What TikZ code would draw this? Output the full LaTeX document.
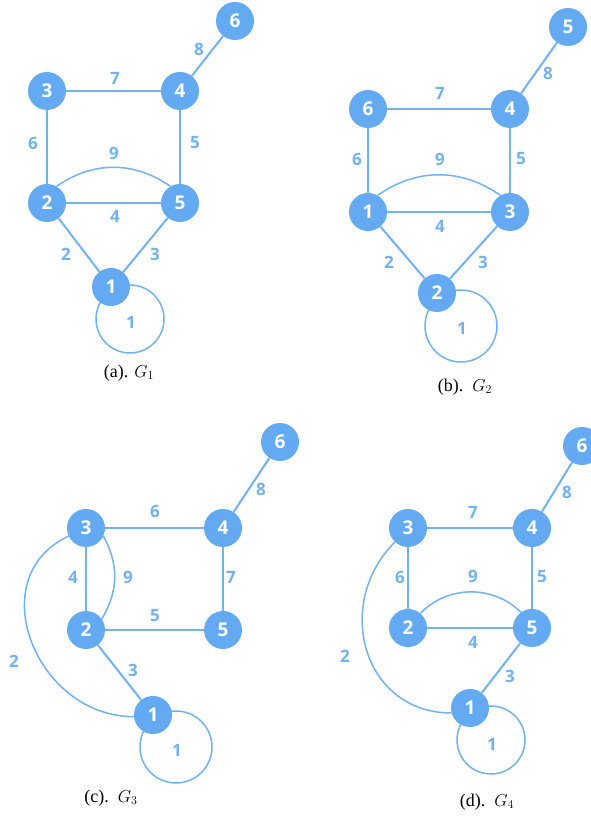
\documentclass[tikz,border=0pt]{standalone}
\usepackage{fontspec}
\setmainfont{Liberation Serif}
\newfontfamily\labfont{Open Sans}
\usetikzlibrary{backgrounds,calc}
\pgfdeclarelayer{paper}
\pgfsetlayers{paper,background,main}
\definecolor{nodeblue}{RGB}{100,170,242}
\definecolor{lineblue}{RGB}{115,178,240}
\tikzset{
 vtx/.style={circle,fill=nodeblue,minimum size=38pt,inner sep=0pt,text=white,font=\labfont\bfseries\fontsize{19}{19}\selectfont},
 edge/.style={draw=lineblue,line width=2pt},
 curved/.style={draw=lineblue,line width=1.5pt},
 wt/.style={text=lineblue,font=\labfont\bfseries\fontsize{17}{17}\selectfont,inner sep=0pt},
 captext/.style={font=\fontsize{18}{18}\selectfont,inner sep=0pt}
}
\begin{document}
\begin{tikzpicture}[x=1pt,y=1pt]
\useasboundingbox (0,0) rectangle (590,818);
\begin{pgfonlayer}{paper}
\fill[white] (0,0) rectangle (590,818);
\end{pgfonlayer}
% ---------- (a) ----------
\node[vtx] (a6) at (235,797) {6};
\node[vtx] (a3) at (47,727) {3};
\node[vtx] (a4) at (180,727) {4};
\node[vtx] (a2) at (47,615) {2};
\node[vtx] (a5) at (180,615) {5};
\node[vtx] (a1) at (111,531) {1};
\begin{scope}[on background layer]
\draw[edge] (a3) -- (a4);
\draw[edge] (a4) -- (a6);
\draw[edge] (a4) -- (a5);
\draw[edge] (a3) -- (a2);
\draw[edge] (a2) -- (a5);
\draw[edge] (a2) -- (a1);
\draw[edge] (a5) -- (a1);
\draw[curved] (a2.60) to[bend left=35] (a5.120);
\draw[curved] ($(a1)+(19,-32)$) circle[radius=34];
\end{scope}
\node[wt] (aw7) at (115,740) {7};
\node[wt] (aw8) at (199,769) {8};
\node[wt] (aw6) at (33,675) {6};
\node[wt] (aw5) at (195,675) {5};
\node[wt] (aw9) at (114,665) {9};
\node[wt] (aw4) at (115,602) {4};
\node[wt] (aw2) at (66,564) {2};
\node[wt] (aw3) at (155,564) {3};
\node[wt] (aw1) at (131,496) {1};
\node[captext] (acap) at (129,445) {(a). $G_1$};
% ---------- (b) ----------
\node[vtx] (b5) at (568,791) {5};
\node[vtx] (b6) at (368,709) {6};
\node[vtx] (b4) at (510,709) {4};
\node[vtx] (b1) at (368,606) {1};
\node[vtx] (b3) at (510,606) {3};
\node[vtx] (b2) at (437,525) {2};
\begin{scope}[on background layer]
\draw[edge] (b6) -- (b4);
\draw[edge] (b4) -- (b5);
\draw[edge] (b4) -- (b3);
\draw[edge] (b6) -- (b1);
\draw[edge] (b1) -- (b3);
\draw[edge] (b1) -- (b2);
\draw[edge] (b3) -- (b2);
\draw[curved] (b1.60) to[bend left=35] (b3.120);
\draw[curved] ($(b2)+(24,-33)$) circle[radius=36];
\end{scope}
\node[wt] (bw7) at (440,725) {7};
\node[wt] (bw8) at (548,745) {8};
\node[wt] (bw6) at (357,659) {6};
\node[wt] (bw5) at (521,659) {5};
\node[wt] (bw9) at (440,659) {9};
\node[wt] (bw4) at (440,592) {4};
\node[wt] (bw2) at (389,556) {2};
\node[wt] (bw3) at (483,556) {3};
\node[wt] (bw1) at (462,490) {1};
\node[captext] (bcap) at (465,431) {(b).\ \ $G_2$};
% ---------- (c) ----------
\node[vtx] (c6) at (280,376) {6};
\node[vtx] (c3) at (86,290) {3};
\node[vtx] (c4) at (223,290) {4};
\node[vtx] (c2) at (86,188) {2};
\node[vtx] (c5) at (223,188) {5};
\node[vtx] (c1) at (153,103) {1};
\begin{scope}[on background layer]
\draw[edge] (c3) -- (c4);
\draw[edge] (c4) -- (c6);
\draw[edge] (c4) -- (c5);
\draw[edge] (c3) -- (c2);
\draw[edge] (c2) -- (c5);
\draw[edge] (c2) -- (c1);
\draw[curved] (c3.-25) to[bend left=30] (c2.35);
\draw[curved] (c3.205) to[out=205,in=180,looseness=1.3] (c1.185);
\draw[curved] ($(c1)+(23,-32)$) circle[radius=36];
\end{scope}
\node[wt] (cw6) at (155,307) {6};
\node[wt] (cw8) at (261,329) {8};
\node[wt] (cw4) at (73,241) {4};
\node[wt] (cw9) at (128,241) {9};
\node[wt] (cw7) at (231,241) {7};
\node[wt] (cw5) at (155,202) {5};
\node[wt] (cw2) at (14,157) {2};
\node[wt] (cw3) at (133,148) {3};
\node[wt] (cw1) at (177,68) {1};
\node[captext] (ccap) at (111,20) {(c).\ \ $G_3$};
% ---------- (d) ----------
\node[vtx] (d6) at (582,372) {6};
\node[vtx] (d3) at (408,290) {3};
\node[vtx] (d4) at (532,290) {4};
\node[vtx] (d2) at (408,190) {2};
\node[vtx] (d5) at (532,190) {5};
\node[vtx] (d1) at (470,110) {1};
\begin{scope}[on background layer]
\draw[edge] (d3) -- (d4);
\draw[edge] (d4) -- (d6);
\draw[edge] (d4) -- (d5);
\draw[edge] (d3) -- (d2);
\draw[edge] (d2) -- (d5);
\draw[edge] (d5) -- (d1);
\draw[curved] (d2.50) to[bend left=45] (d5.125);
\draw[curved] (d3.227) to[out=225,in=180,looseness=1.25] (d1.195);
\draw[curved] ($(d1)+(21,-32)$) circle[radius=34];
\end{scope}
\node[wt] (dw7) at (473,306) {7};
\node[wt] (dw8) at (567,326) {8};
\node[wt] (dw6) at (400,241) {6};
\node[wt] (dw9) at (473,242) {9};
\node[wt] (dw5) at (542,241) {5};
\node[wt] (dw4) at (473,176) {4};
\node[wt] (dw2) at (345,162) {2};
\node[wt] (dw3) at (510,142) {3};
\node[wt] (dw1) at (492,74) {1};
\node[captext] (dcap) at (487,16) {(d).\ \ $G_4$};
\end{tikzpicture}
\end{document}
